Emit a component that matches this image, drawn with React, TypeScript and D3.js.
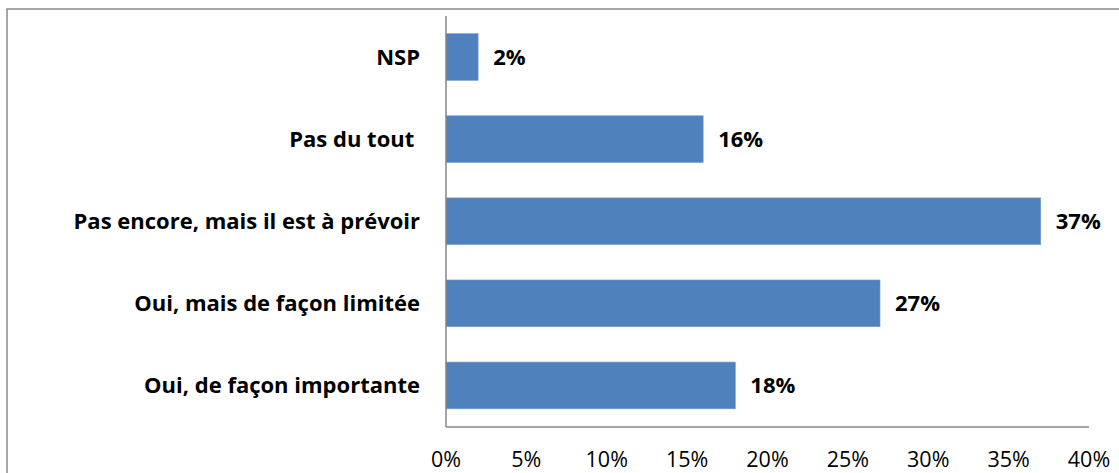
import React from "react";
import * as d3 from "d3";

const categories = [
  "NSP",
  "Pas du tout ",
  "Pas encore, mais il est à prévoir",
  "Oui, mais de façon limitée",
  "Oui, de façon importante",
];
const values = [0.02, 0.16, 0.37, 0.27, 0.18];
const valueLabels = ["2%", "16%", "37%", "27%", "18%"];
const ticks = [0, 0.05, 0.1, 0.15, 0.2, 0.25, 0.3, 0.35, 0.4];

const W = 1119;
const H = 473;
const FONT = "'Open Sans', 'DejaVu Sans', sans-serif";

export default function App() {
  const x = d3.scaleLinear().domain([0, 0.4]).range([446, 1089]);
  const y = d3
    .scaleBand<string>()
    .domain(categories)
    .range([16, 426.5])
    .paddingInner(0.43)
    .paddingOuter(0.215);
  const fmt = d3.format(".0%");

  return (
    <svg
      width={W}
      height={H}
      style={{ position: "absolute", left: 0, top: 0, background: "#fff" }}
    >
      <rect x={7} y={9} width={W + 20} height={H + 20} fill="#fff" stroke="#8a8a8a" strokeWidth={1.5} />
      {categories.map((c, i) => (
        <g key={c}>
          <rect
            x={x(0)}
            y={y(c)!}
            width={x(values[i]) - x(0)}
            height={y.bandwidth()}
            fill="#4f81bd"
            stroke="#7ea3d3"
            strokeWidth={0.6}
          />
          <text
            x={x(values[i]) + 15}
            y={y(c)! + y.bandwidth() / 2}
            dy="0.36em"
            fontFamily={FONT}
            fontWeight="bold"
            fontSize={22}
            fill="#000"
          >
            {valueLabels[i]}
          </text>
          <text
            x={420}
            y={y(c)! + y.bandwidth() / 2}
            dy="0.36em"
            textAnchor="end"
            fontFamily={FONT}
            fontWeight="bold"
            fontSize={22}
            fill="#000"
            style={{ whiteSpace: "pre" }}
          >
            {c}
          </text>
        </g>
      ))}
      <line x1={446} x2={446} y1={16} y2={427} stroke="#868686" strokeWidth={1.5} />
      <line x1={446} x2={1089} y1={427} y2={427} stroke="#868686" strokeWidth={1.5} />
      {ticks.map((t) => (
        <text
          key={t}
          x={x(t)}
          y={467}
          textAnchor="middle"
          fontFamily={FONT}
          fontSize={21.5}
          fill="#000"
        >
          {fmt(t)}
        </text>
      ))}
    </svg>
  );
}
